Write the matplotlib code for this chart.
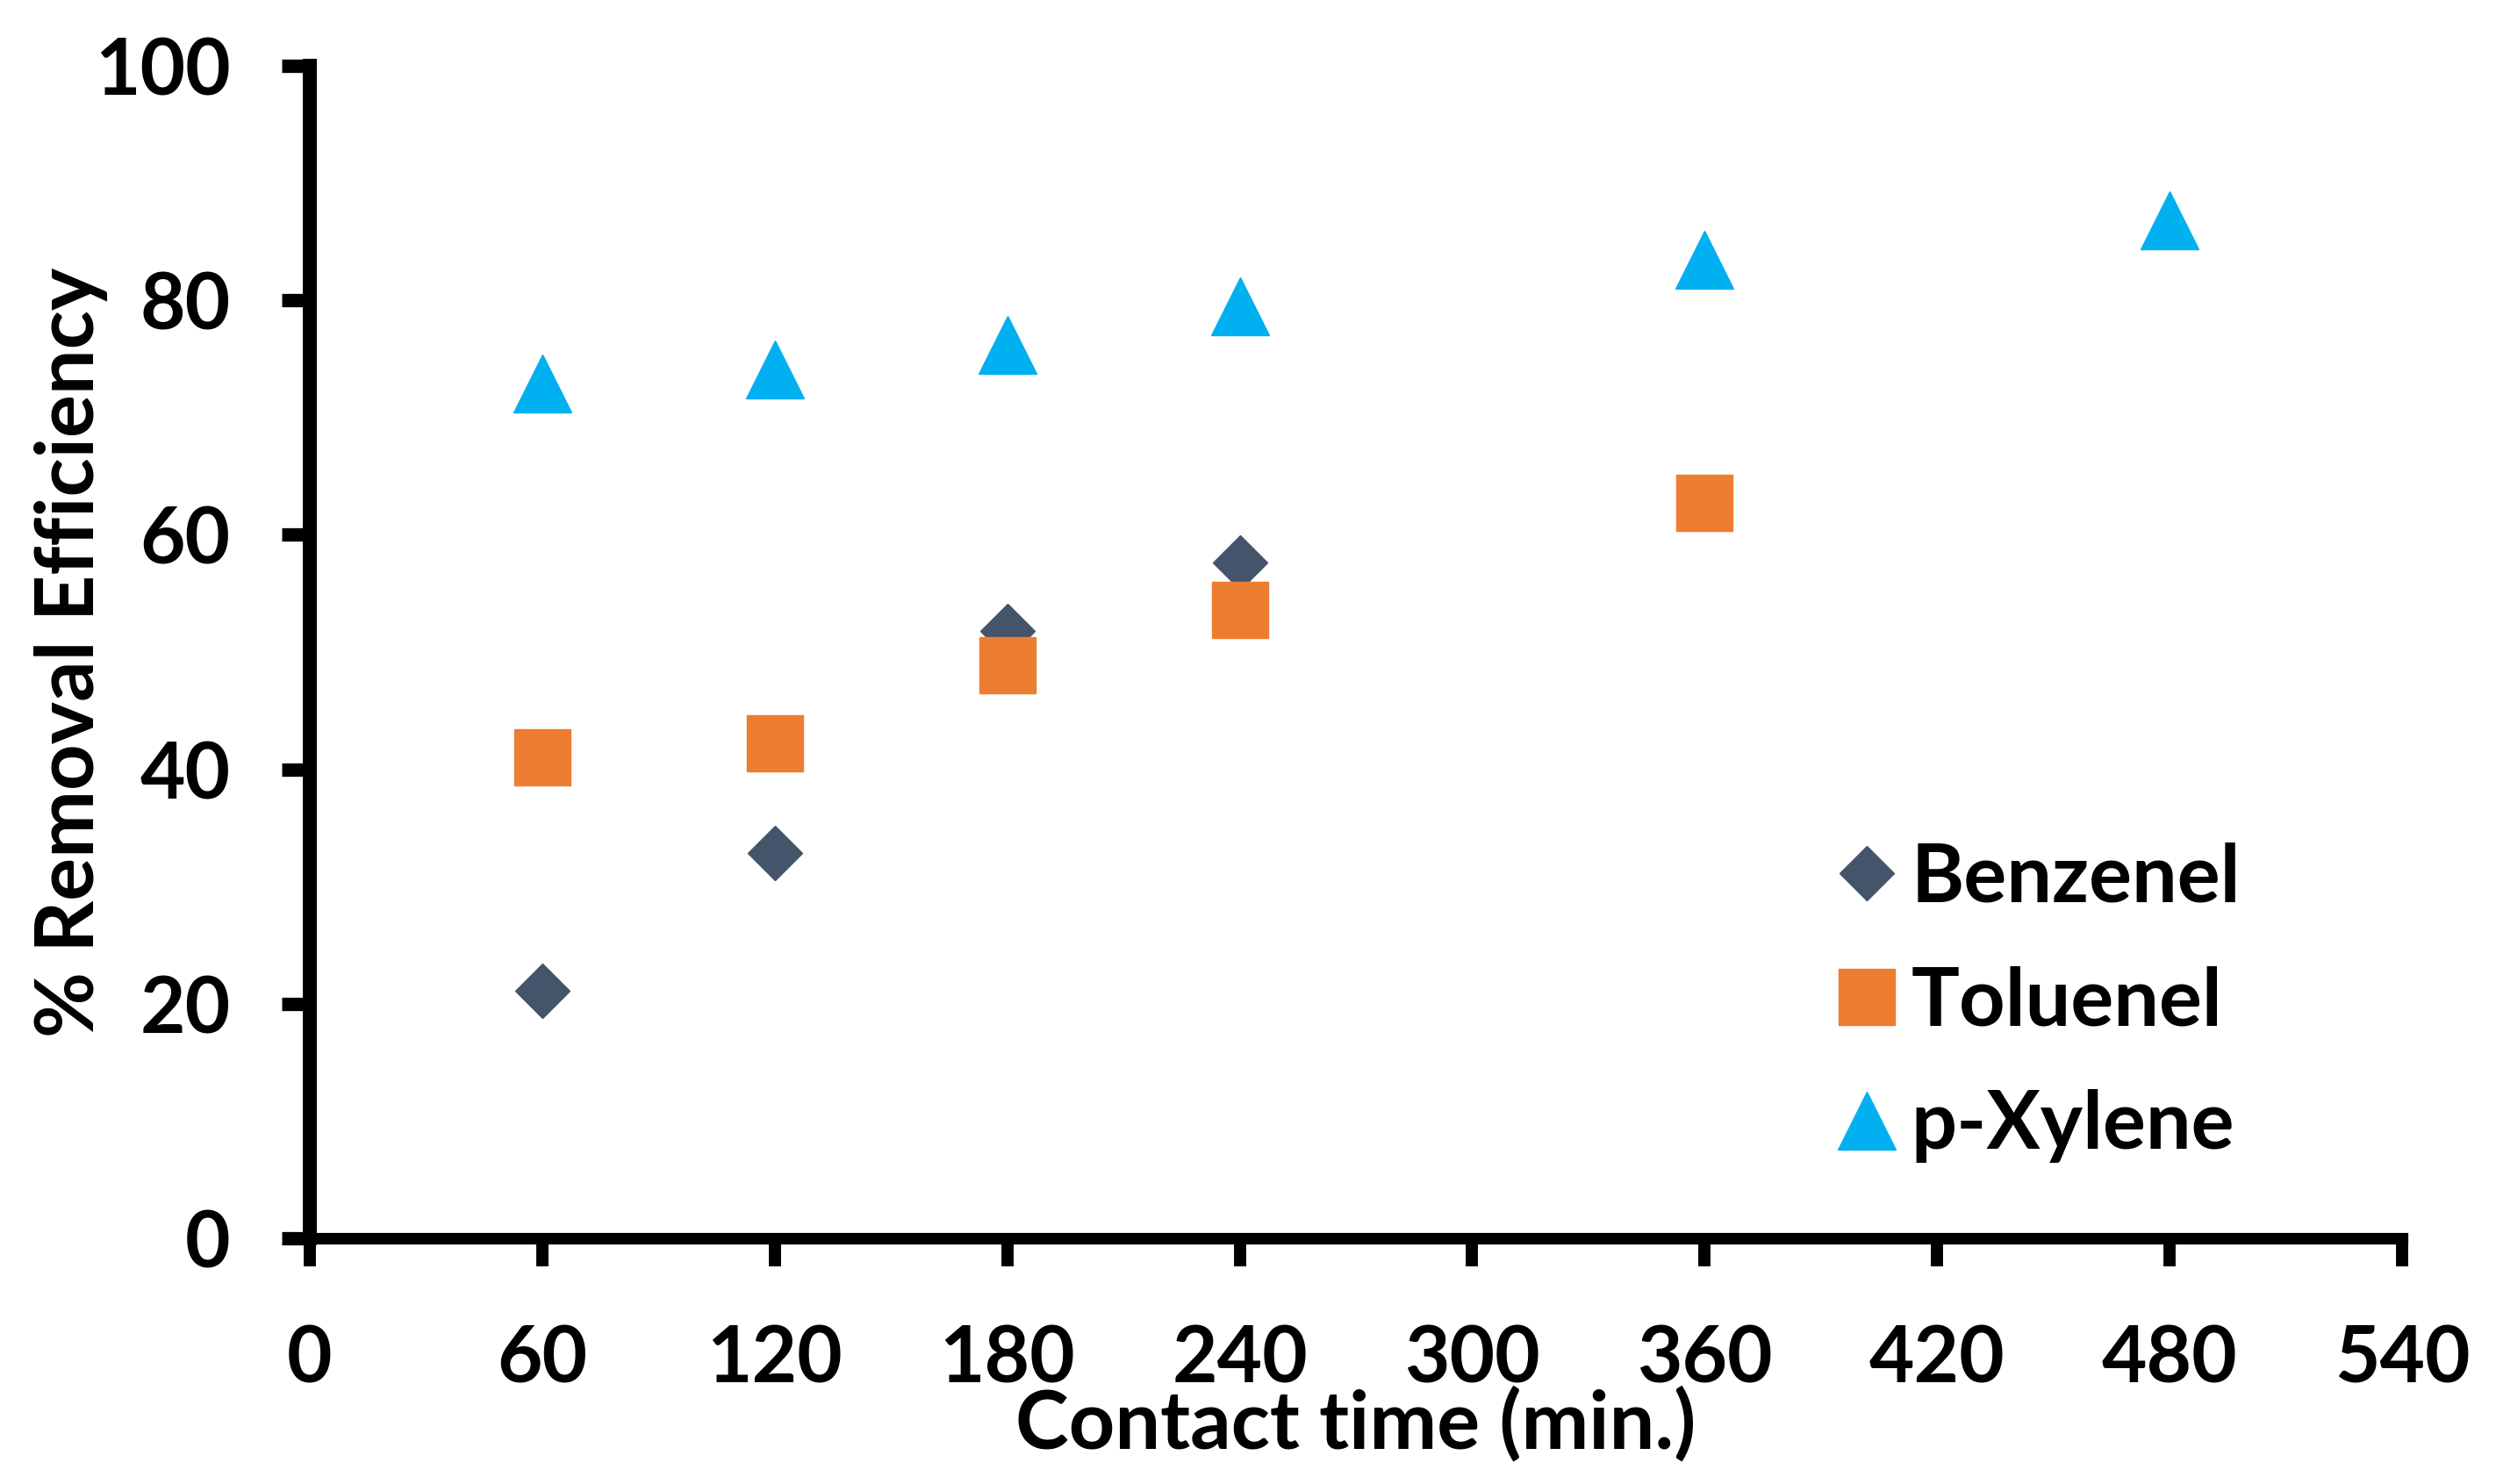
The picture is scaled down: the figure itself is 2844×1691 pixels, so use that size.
"""Scatter chart: % removal efficiency of BTX vs contact time."""
import matplotlib
matplotlib.use("Agg")
import matplotlib.pyplot as plt

# data
benzene_time = [60, 120, 180, 240]
benzene = [21.1, 32.9, 51.8, 57.6]

toluene_time = [60, 120, 180, 240, 360]
toluene = [41.0, 42.2, 48.9, 53.6, 62.7]

xylene_time = [60, 120, 180, 240, 360, 480]
xylene = [72.9, 74.1, 76.2, 79.5, 83.4, 86.8]

x_ticks = list(range(0, 541, 60))
y_ticks = list(range(0, 101, 20))

plt.rcParams["font.family"] = ["Lato", "DejaVu Sans"]
plt.rcParams["font.weight"] = "bold"
FS_TICK = 64
FS_LABEL = 66

fig = plt.figure(figsize=(28.44, 16.91), dpi=100)
ax = fig.add_axes([0.12412, 0.16529, 0.96238 - 0.12412, 0.95594 - 0.16529])

ax.plot(benzene_time, benzene, linestyle="none", marker="D", markersize=32,
        color="#44546A", label="Benzenel", clip_on=False, zorder=3)
ax.plot(toluene_time, toluene, linestyle="none", marker="s", markersize=46,
        color="#ED7D31", label="Toluenel", clip_on=False, zorder=4)
ax.plot(xylene_time, xylene, linestyle="none", marker="^", markersize=48,
        color="#00B0F0", label="p-Xylene", clip_on=False, zorder=3)

ax.set_xlim(0, 540)
ax.set_ylim(0, 100)
ax.set_xticks(x_ticks)
ax.set_yticks(y_ticks)

for side in ("top", "right"):
    ax.spines[side].set_visible(False)
ax.spines["left"].set_linewidth(11.5)
ax.spines["bottom"].set_linewidth(9.5)

ax.tick_params(axis="x", direction="out", length=23, width=10, pad=47,
               labelsize=FS_TICK, colors="black")
ax.tick_params(axis="y", direction="out", length=23, width=11, pad=42,
               labelsize=FS_TICK, colors="black")
for lbl in ax.get_xticklabels() + ax.get_yticklabels():
    lbl.set_fontweight("bold")

ax.set_xlabel("Contact time (min.)", fontsize=FS_LABEL, fontweight="bold")
ax.set_ylabel("% Removal Efficiency", fontsize=FS_LABEL, fontweight="bold")
ax.xaxis.set_label_coords(0.5, -0.1255)
ax.yaxis.set_label_coords(-0.0963, 0.5)

ax.legend(loc="center left", bbox_to_anchor=(0.730, 0.2013), frameon=False,
          borderpad=0, borderaxespad=0, handlelength=0.73,
          handletextpad=0.19, labelspacing=0.62, numpoints=1,
          prop={"weight": "bold", "size": FS_LABEL})

fig.savefig("out.png", dpi=100, facecolor="white")
